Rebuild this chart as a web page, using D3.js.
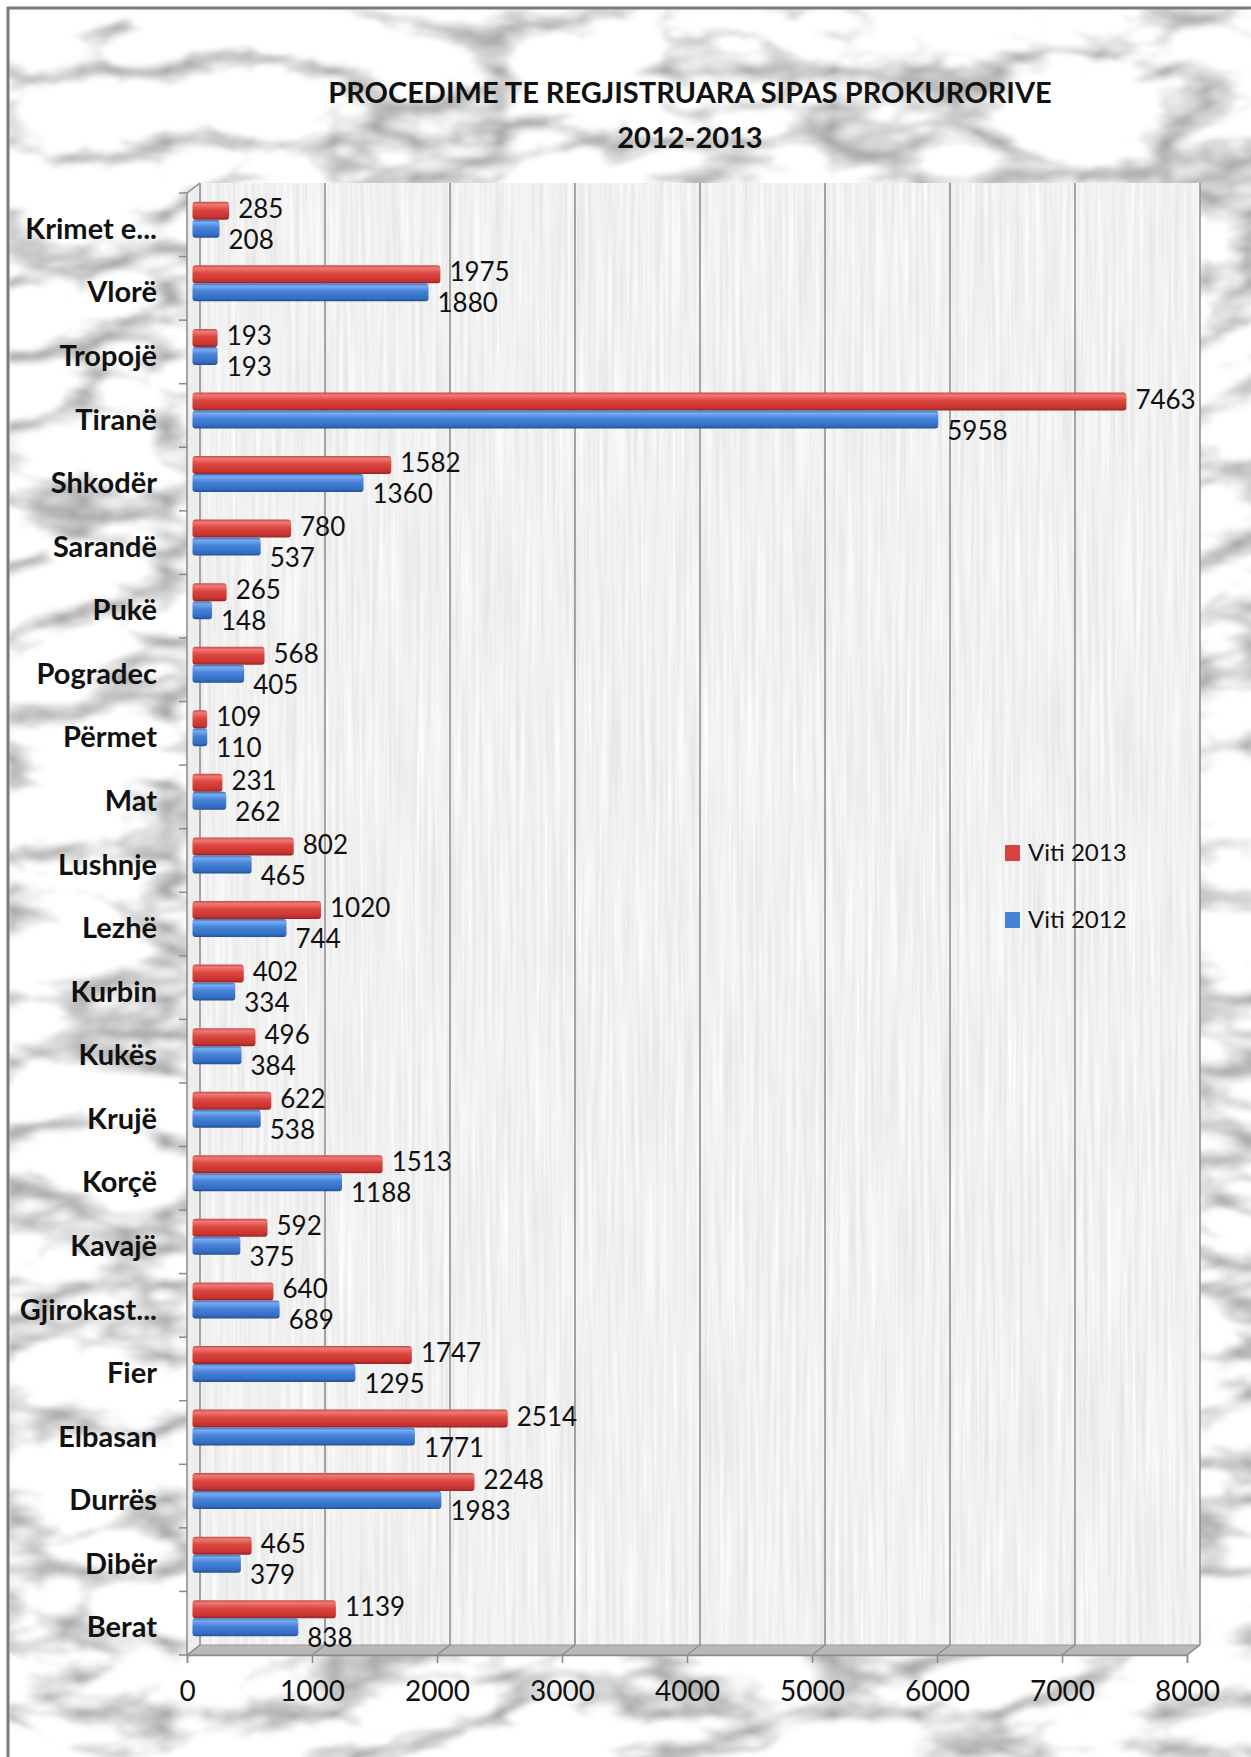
<!DOCTYPE html>
<html>
<head>
<meta charset="utf-8">
<script src="https://cdn.jsdelivr.net/npm/d3@7"></script>
<style>
  body { margin: 0; background: #fff; }
  text { font-family: Lato, "Open Sans", sans-serif; fill: #111; }
</style>
</head>
<body>
<div id="chart"></div>
<script>
// categories top to bottom, as in the chart
var categories = ["Krimet e...", "Vlorë", "Tropojë", "Tiranë", "Shkodër", "Sarandë", "Pukë",
  "Pogradec", "Përmet", "Mat", "Lushnje", "Lezhë", "Kurbin", "Kukës", "Krujë", "Korçë",
  "Kavajë", "Gjirokast...", "Fier", "Elbasan", "Durrës", "Dibër", "Berat"];
var viti2013 = [285, 1975, 193, 7463, 1582, 780, 265, 568, 109, 231, 802, 1020, 402, 496, 622,
  1513, 592, 640, 1747, 2514, 2248, 465, 1139];
var viti2012 = [208, 1880, 193, 5958, 1360, 537, 148, 405, 110, 262, 465, 744, 334, 384, 538,
  1188, 375, 689, 1295, 1771, 1983, 379, 838];
var xTicks = [0, 1000, 2000, 3000, 4000, 5000, 6000, 7000, 8000];
var seriesNames = ["Viti 2013", "Viti 2012"];
var titleLines = ["PROCEDIME TE REGJISTRUARA SIPAS PROKURORIVE", "2012-2013"];

var w = 1251, h = 1757;
var dx = 13, dy = -10; // 3d depth of the plot box

var svg = d3.select("#chart").append("svg")
  .attr("width", w)
  .attr("height", h);

var defs = svg.append("defs");

// marble look for the outer chart area
var marble = defs.append("filter").attr("id", "marble")
  .attr("x", 0).attr("y", 0).attr("width", 1).attr("height", 1)
  .attr("color-interpolation-filters", "sRGB");
marble.append("feTurbulence")
  .attr("type", "turbulence")
  .attr("baseFrequency", "0.006 0.014")
  .attr("numOctaves", 4)
  .attr("seed", 11);
marble.append("feColorMatrix")
  .attr("type", "matrix")
  .attr("values", "1.2 0 0 0 0.62  1.2 0 0 0 0.62  1.2 0 0 0 0.62  0 0 0 0 1");
marble.append("feGaussianBlur").attr("stdDeviation", 2);

// vertical streaks for the back wall
var streaks = defs.append("filter").attr("id", "streaks")
  .attr("x", 0).attr("y", 0).attr("width", 1).attr("height", 1)
  .attr("color-interpolation-filters", "sRGB");
streaks.append("feTurbulence")
  .attr("type", "fractalNoise")
  .attr("baseFrequency", "0.25 0.006")
  .attr("numOctaves", 2)
  .attr("seed", 3);
streaks.append("feColorMatrix")
  .attr("type", "matrix")
  .attr("values", "0.13 0 0 0 0.88  0.13 0 0 0 0.88  0.13 0 0 0 0.88  0 0 0 0 1");

function barGradient(id, stops) {
  var g = defs.append("linearGradient").attr("id", id)
    .attr("x1", 0).attr("y1", 0).attr("x2", 0).attr("y2", 1);
  stops.forEach(function (s) {
    g.append("stop").attr("offset", s[0]).attr("stop-color", s[1]);
  });
}
barGradient("gRed", [[0, "#c94a45"], [0.15, "#ef7a74"], [0.45, "#dc4640"], [0.85, "#c8332f"], [1, "#8e2522"]]);
barGradient("gBlue", [[0, "#3f6fb8"], [0.15, "#7aaaf0"], [0.45, "#4583d8"], [0.85, "#336cc2"], [1, "#22508f"]]);
var colors = ["url(#gRed)", "url(#gBlue)"];
var legendColors = ["#d9423e", "#4583d8"];

// outer frame
svg.append("rect")
  .attr("x", 8).attr("y", 8)
  .attr("width", w).attr("height", h)
  .attr("filter", "url(#marble)");
svg.append("rect")
  .attr("x", 8).attr("y", 8)
  .attr("width", w).attr("height", h)
  .attr("fill", "none")
  .attr("stroke", "#7a7a7a")
  .attr("stroke-width", 3);

var xScale = d3.scaleLinear().domain([0, 8000]).range([187, 1187]);
var yScale = d3.scaleBand().domain(categories).range([193, 1655]);
var bw = yScale.bandwidth();
var yTop = yScale.range()[0], yBottom = yScale.range()[1];
var x0 = xScale(0), x1 = xScale(8000);

// back wall
svg.append("rect")
  .attr("x", x0 + dx).attr("y", yTop + dy)
  .attr("width", x1 - x0).attr("height", yBottom - yTop)
  .attr("filter", "url(#streaks)");

// left side wall
svg.append("path")
  .attr("d", "M" + x0 + "," + yTop + "L" + (x0 + dx) + "," + (yTop + dy) +
    "L" + (x0 + dx) + "," + (yBottom + dy) + "L" + x0 + "," + yBottom + "Z")
  .attr("fill", "#eeeeee");

// floor
svg.append("path")
  .attr("d", "M" + x0 + "," + yBottom + "L" + (x0 + dx) + "," + (yBottom + dy) +
    "L" + (x1 + dx) + "," + (yBottom + dy) + "L" + x1 + "," + yBottom + "Z")
  .attr("fill", "#b9b9b9")
  .attr("stroke", "#9a9a9a")
  .attr("stroke-width", 1);

// gridlines on the back wall and across the floor
var grid = svg.append("g");
grid.selectAll(".gl").data(xTicks).enter().append("line")
  .attr("x1", function (d) { return xScale(d) + dx; })
  .attr("x2", function (d) { return xScale(d) + dx; })
  .attr("y1", yTop + dy)
  .attr("y2", yBottom + dy)
  .attr("stroke", "#8a8a8a")
  .attr("stroke-width", 1.5);
grid.selectAll(".fl").data(xTicks).enter().append("line")
  .attr("x1", function (d) { return xScale(d); })
  .attr("x2", function (d) { return xScale(d) + dx; })
  .attr("y1", yBottom)
  .attr("y2", yBottom + dy)
  .attr("stroke", "#8a8a8a")
  .attr("stroke-width", 1.2);

// left axis (front edge) with ticks between categories
svg.append("path")
  .attr("d", "M" + (x0 + dx) + "," + (yTop + dy) + "L" + x0 + "," + yTop + "L" + x0 + "," + yBottom)
  .attr("fill", "none")
  .attr("stroke", "#8a8a8a")
  .attr("stroke-width", 1.5);
svg.selectAll(".ytick").data(categories.concat(["end"])).enter().append("line")
  .attr("x1", x0 - 8).attr("x2", x0)
  .attr("y1", function (d, i) { return yTop + i * bw; })
  .attr("y2", function (d, i) { return yTop + i * bw; })
  .attr("stroke", "#8a8a8a")
  .attr("stroke-width", 1.5);

// bottom axis
var xAxis = d3.axisBottom(xScale).tickValues(xTicks).tickSize(8).tickPadding(18)
  .tickFormat(d3.format("d"));
var gx = svg.append("g")
  .attr("transform", "translate(0," + yBottom + ")")
  .call(xAxis);
gx.select(".domain").attr("stroke", "#8a8a8a").attr("stroke-width", 1.5);
gx.selectAll(".tick line").attr("stroke", "#8a8a8a").attr("stroke-width", 1.5);
gx.selectAll(".tick text")
  .attr("font-family", "Lato, sans-serif")
  .attr("font-size", 28)
  .attr("fill", "#111");

// bars, drawn half way into the depth
var bx = dx / 2, by = dy / 2;
var barH = 18;
var rows = categories.map(function (c, i) {
  return { cat: c, vals: [viti2013[i], viti2012[i]] };
});
var groups = svg.selectAll(".row").data(rows).enter().append("g");
groups.each(function (d) {
  var g = d3.select(this);
  var c = yScale(d.cat) + bw / 2 + by;
  d.vals.forEach(function (v, k) {
    var y0 = k === 0 ? c - barH : c;
    g.append("rect")
      .attr("x", xScale(0) + bx - 1)
      .attr("y", y0)
      .attr("width", xScale(v) - xScale(0) + 1)
      .attr("height", barH)
      .attr("rx", 3)
      .attr("fill", colors[k]);
    g.append("text")
      .attr("x", xScale(v) + bx + 9)
      .attr("y", k === 0 ? c - 11 : c + 20)
      .attr("dy", "0.35em")
      .attr("font-size", 26)
      .text(v);
  });
});

// category labels
svg.selectAll(".cat").data(categories).enter().append("text")
  .attr("x", 157)
  .attr("y", function (d) { return yScale(d) + bw / 2 + 4; })
  .attr("dy", "0.35em")
  .attr("text-anchor", "end")
  .attr("font-size", 29)
  .attr("font-weight", "bold")
  .text(function (d) { return d; });

// title
svg.selectAll(".title").data(titleLines).enter().append("text")
  .attr("x", 690)
  .attr("y", function (d, i) { return 93 + i * 45; })
  .attr("dy", "0.35em")
  .attr("text-anchor", "middle")
  .attr("font-size", 29)
  .attr("font-weight", "bold")
  .text(function (d) { return d; });

// legend
var legend = svg.selectAll(".legend").data(seriesNames).enter().append("g")
  .attr("transform", function (d, i) { return "translate(1005," + (853 + i * 67) + ")"; });
legend.append("rect")
  .attr("x", 0).attr("y", -8)
  .attr("width", 15).attr("height", 16)
  .attr("fill", function (d, i) { return legendColors[i]; });
legend.append("text")
  .attr("x", 23).attr("y", 0)
  .attr("dy", "0.35em")
  .attr("font-size", 24)
  .text(function (d) { return d; });
</script>
</body>
</html>
